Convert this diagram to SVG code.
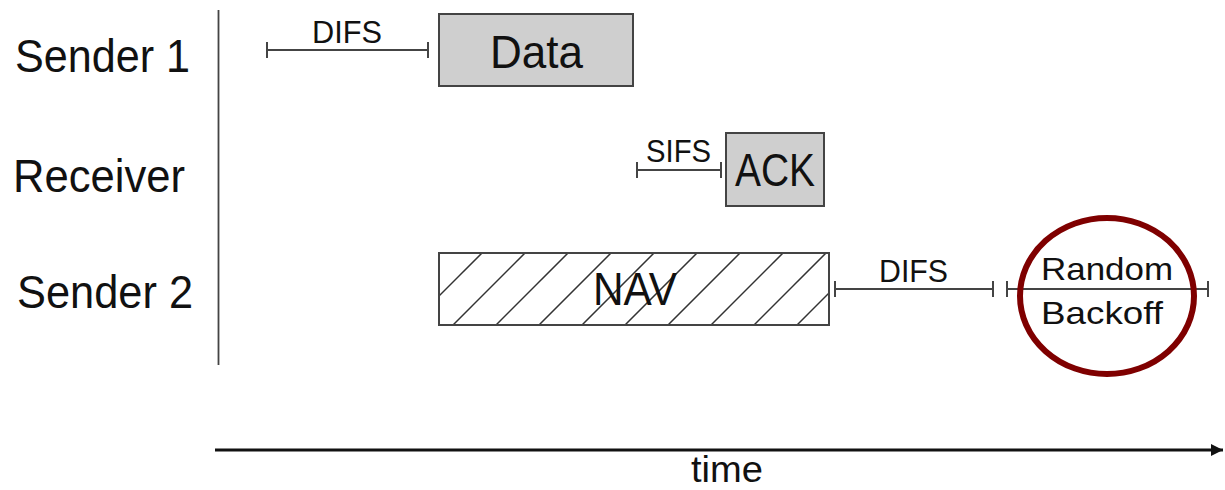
<svg xmlns="http://www.w3.org/2000/svg" width="1225" height="490" viewBox="0 0 1225 490">
<style>
text{font-family:"Liberation Sans",Arial,sans-serif;fill:#111}
.lbl{font-size:46px}
.sm{font-size:32px}
.box{fill:#cfcfcf;stroke:#444;stroke-width:2}
.iv{stroke:#444;stroke-width:2;fill:none}
.hatch{stroke:#333;stroke-width:1.5}
</style>
<defs>
<clipPath id="navclip"><rect x="439" y="253" width="390" height="72"/></clipPath>
<marker id="arr" viewBox="0 0 10 10" refX="10" refY="5" markerWidth="4" markerHeight="4" markerUnits="strokeWidth" orient="auto"><path d="M0,0L10,5L0,10z" fill="#111"/></marker>
</defs>
<rect width="1225" height="490" fill="#fff"/>
<g id="row-labels">
<text class="lbl" x="15" y="72" textLength="175" lengthAdjust="spacingAndGlyphs">Sender 1</text>
<text class="lbl" x="13" y="192" textLength="172" lengthAdjust="spacingAndGlyphs">Receiver</text>
<text class="lbl" x="17" y="308" textLength="176" lengthAdjust="spacingAndGlyphs">Sender 2</text>
</g>
<line x1="218.5" y1="10" x2="218.5" y2="365" stroke="#444" stroke-width="1.8"/>
<g id="data">
<rect class="box" x="439" y="14" width="194" height="72"/>
<text class="lbl" x="490" y="68" textLength="93" lengthAdjust="spacingAndGlyphs">Data</text>
</g>
<g id="ack">
<rect class="box" x="726" y="133" width="98" height="73"/>
<text class="lbl" x="735" y="186" textLength="80" lengthAdjust="spacingAndGlyphs">ACK</text>
</g>
<g id="nav">
<rect x="439" y="253" width="390" height="72" fill="#fff"/>
<g clip-path="url(#navclip)" class="hatch">
<line x1="410" y1="325" x2="482" y2="253"/>
<line x1="453" y1="325" x2="525" y2="253"/>
<line x1="496" y1="325" x2="568" y2="253"/>
<line x1="539" y1="325" x2="611" y2="253"/>
<line x1="582" y1="325" x2="654" y2="253"/>
<line x1="625" y1="325" x2="697" y2="253"/>
<line x1="668" y1="325" x2="740" y2="253"/>
<line x1="711" y1="325" x2="783" y2="253"/>
<line x1="754" y1="325" x2="826" y2="253"/>
<line x1="797" y1="325" x2="869" y2="253"/>
</g>
<rect x="439" y="253" width="390" height="72" fill="none" stroke="#444" stroke-width="2"/>
<text class="lbl" x="593" y="305" textLength="84" lengthAdjust="spacingAndGlyphs">NAV</text>
</g>
<g id="difs1">
<path class="iv" d="M267,50H428M267,42V58M428,42V58"/>
<text class="sm" x="312" y="43" textLength="70" lengthAdjust="spacingAndGlyphs">DIFS</text>
</g>
<g id="sifs">
<path class="iv" d="M637,170H721M637,162V178M721,162V178"/>
<text class="sm" x="646" y="162" textLength="65" lengthAdjust="spacingAndGlyphs">SIFS</text>
</g>
<g id="difs2">
<path class="iv" d="M835,289H993M835,281V297M993,281V297"/>
<text class="sm" x="879" y="282" textLength="69" lengthAdjust="spacingAndGlyphs">DIFS</text>
</g>
<g id="backoff">
<path class="iv" d="M1007,289H1208M1007,281V297M1208,281V297"/>
<text class="sm" x="1041" y="280" textLength="132" lengthAdjust="spacingAndGlyphs">Random</text>
<text class="sm" x="1041" y="324" textLength="122" lengthAdjust="spacingAndGlyphs">Backoff</text>
<ellipse cx="1107" cy="296" rx="87" ry="78" fill="none" stroke="#7f0000" stroke-width="6"/>
</g>
<g id="connectors">
<line x1="215" y1="450" x2="1223" y2="450" stroke="#111" stroke-width="3" marker-end="url(#arr)"/>
</g>
<g id="axis-label">
<text x="691" y="482" font-size="36" textLength="72" lengthAdjust="spacingAndGlyphs">time</text>
</g>
</svg>
